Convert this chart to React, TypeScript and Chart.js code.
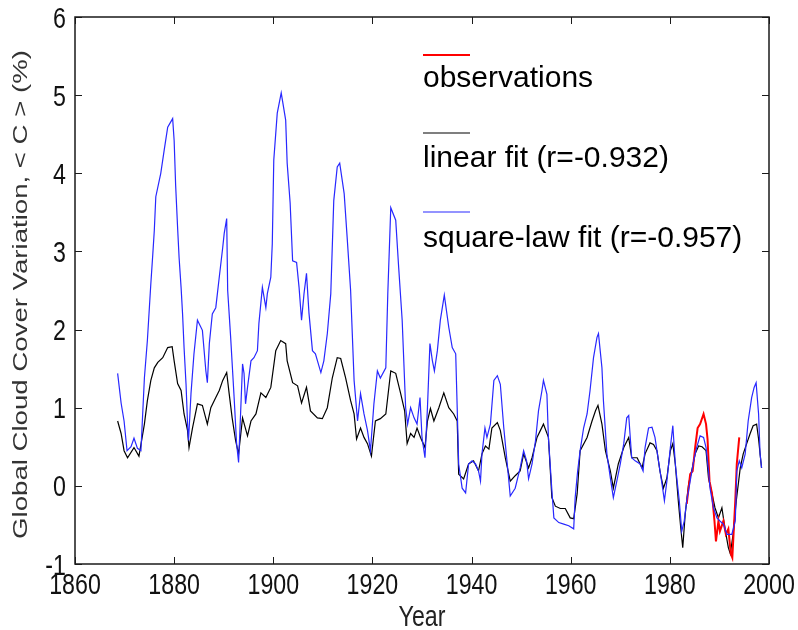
import React, { useEffect, useRef } from "react";
import { Chart, registerables } from "chart.js";

Chart.register(...registerables);

const xTickStep = 20;
const xMin = 1860;
const xMax = 2000;
const yMin = -1;
const yMax = 6;

const seriesLabels = ["observations", "linear fit (r=-0.932)", "square-law fit (r=-0.957)"];

const obsYears = [1983.4, 1984.1, 1984.6, 1985.1, 1985.6, 1986.1, 1986.8, 1987.3, 1987.6, 1988.0, 1988.5, 1989.0, 1989.3, 1989.8, 1990.1, 1990.8, 1991.3, 1991.8, 1992.3, 1992.6, 1993.2, 1993.5, 1994.0];
const obsValues = [-0.23, 0.15, 0.19, 0.49, 0.74, 0.79, 0.92, 0.79, 0.6, 0.06, -0.1, -0.45, -0.71, -0.45, -0.58, -0.45, -0.62, -0.55, -0.87, -0.92, -0.19, 0.28, 0.62];

const linYears = [1868.6, 1869.3, 1869.9, 1870.6, 1871.9, 1872.9, 1874.0, 1874.6, 1875.3, 1876.0, 1876.7, 1877.7, 1878.7, 1879.6, 1880.0, 1880.7, 1881.4, 1882.0, 1882.7, 1883.0, 1883.7, 1884.7, 1885.7, 1886.7, 1887.4, 1888.4, 1889.1, 1889.8, 1890.6, 1891.1, 1891.7, 1892.4, 1893.0, 1893.8, 1894.8, 1895.5, 1896.5, 1897.5, 1898.5, 1899.5, 1900.5, 1901.5, 1902.5, 1902.8, 1903.9, 1904.9, 1905.7, 1906.7, 1907.5, 1908.9, 1909.9, 1910.9, 1911.9, 1912.9, 1913.6, 1914.6, 1915.6, 1916.3, 1916.8, 1917.6, 1918.3, 1919.0, 1919.8, 1920.6, 1921.6, 1922.7, 1923.7, 1924.7, 1925.7, 1926.5, 1927.0, 1927.7, 1928.4, 1929.0, 1929.7, 1930.6, 1931.1, 1931.7, 1932.4, 1933.4, 1934.4, 1935.4, 1936.4, 1937.1, 1937.4, 1938.4, 1939.4, 1940.4, 1941.4, 1942.1, 1942.8, 1943.5, 1944.1, 1945.2, 1945.8, 1946.8, 1947.8, 1948.8, 1949.8, 1950.5, 1951.5, 1952.2, 1953.2, 1954.5, 1955.5, 1956.2, 1956.9, 1957.9, 1958.9, 1959.9, 1960.6, 1961.3, 1961.9, 1963.3, 1964.3, 1965.0, 1965.5, 1966.3, 1967.0, 1968.0, 1968.6, 1969.6, 1970.7, 1971.7, 1972.3, 1973.4, 1974.4, 1975.0, 1976.0, 1976.7, 1977.4, 1978.0, 1978.7, 1979.4, 1980.1, 1980.6, 1981.1, 1981.7, 1982.2, 1982.6, 1983.1, 1983.8, 1984.4, 1985.1, 1985.8, 1986.5, 1987.3, 1987.8, 1988.5, 1989.1, 1989.8, 1990.5, 1991.1, 1991.8, 1992.2, 1992.8, 1993.4, 1994.2, 1994.8, 1995.5, 1996.2, 1996.8, 1997.5, 1997.9, 1998.2, 1998.5];
const linValues = [0.83, 0.67, 0.45, 0.36, 0.49, 0.38, 0.79, 1.09, 1.35, 1.51, 1.58, 1.64, 1.77, 1.78, 1.6, 1.31, 1.22, 0.92, 0.71, 0.49, 0.74, 1.05, 1.03, 0.79, 1.0, 1.13, 1.22, 1.35, 1.45, 1.18, 0.87, 0.58, 0.41, 0.87, 0.64, 0.83, 0.92, 1.19, 1.13, 1.26, 1.73, 1.86, 1.82, 1.6, 1.32, 1.28, 1.06, 1.26, 0.96, 0.87, 0.86, 1.0, 1.38, 1.64, 1.63, 1.38, 1.09, 0.92, 0.6, 0.74, 0.62, 0.54, 0.38, 0.83, 0.86, 0.92, 1.47, 1.44, 1.18, 0.96, 0.54, 0.67, 0.62, 0.74, 0.62, 0.49, 0.83, 0.99, 0.83, 1.0, 1.19, 1.0, 0.92, 0.83, 0.15, 0.09, 0.28, 0.32, 0.19, 0.41, 0.51, 0.47, 0.74, 0.81, 0.71, 0.36, 0.06, 0.13, 0.19, 0.41, 0.23, 0.36, 0.62, 0.79, 0.62, -0.15, -0.26, -0.29, -0.29, -0.41, -0.42, -0.1, 0.45, 0.62, 0.83, 0.96, 1.03, 0.79, 0.45, 0.19, -0.03, 0.28, 0.49, 0.62, 0.36, 0.36, 0.23, 0.41, 0.55, 0.53, 0.45, 0.19, -0.03, 0.1, 0.45, 0.54, 0.28, -0.19, -0.54, -0.79, -0.36, 0.03, 0.19, 0.41, 0.51, 0.5, 0.45, 0.1, -0.1, -0.28, -0.41, -0.28, -0.54, -0.79, -0.87, -0.6, -0.19, 0.23, 0.41, 0.54, 0.67, 0.77, 0.79, 0.6, 0.41, 0.23];

const sqYears = [1868.6, 1869.3, 1869.9, 1870.5, 1871.3, 1871.9, 1872.6, 1873.3, 1874.0, 1874.6, 1875.3, 1875.7, 1876.0, 1876.3, 1877.3, 1878.0, 1878.7, 1879.7, 1880.0, 1880.3, 1880.7, 1881.0, 1881.4, 1881.7, 1882.0, 1882.4, 1882.7, 1882.9, 1883.4, 1884.0, 1884.7, 1885.7, 1886.4, 1886.7, 1887.1, 1887.7, 1888.4, 1889.1, 1889.8, 1890.1, 1890.6, 1890.8, 1891.4, 1892.1, 1892.6, 1893.0, 1893.4, 1893.8, 1894.1, 1894.4, 1894.8, 1895.5, 1896.1, 1896.8, 1897.1, 1897.8, 1898.5, 1898.8, 1899.5, 1899.8, 1900.1, 1900.8, 1901.6, 1902.5, 1902.8, 1903.4, 1903.9, 1904.7, 1905.2, 1905.7, 1906.2, 1906.7, 1907.2, 1907.9, 1908.5, 1909.6, 1910.2, 1910.9, 1911.6, 1912.2, 1912.9, 1913.4, 1914.3, 1914.9, 1915.6, 1916.3, 1917.0, 1917.6, 1918.3, 1919.0, 1919.6, 1920.3, 1921.0, 1921.6, 1922.7, 1923.1, 1923.7, 1924.7, 1925.3, 1926.0, 1926.7, 1927.1, 1927.7, 1928.4, 1929.0, 1929.6, 1930.0, 1930.6, 1931.1, 1931.6, 1932.1, 1932.5, 1933.1, 1933.7, 1934.5, 1935.4, 1936.1, 1936.8, 1937.1, 1937.4, 1938.1, 1938.8, 1939.4, 1940.1, 1940.8, 1941.4, 1941.8, 1942.1, 1942.7, 1943.1, 1943.8, 1944.5, 1945.2, 1945.8, 1946.5, 1947.2, 1947.8, 1948.8, 1949.8, 1950.5, 1951.1, 1951.5, 1952.2, 1952.9, 1953.5, 1954.2, 1954.5, 1955.2, 1955.5, 1956.2, 1956.6, 1957.6, 1958.6, 1959.6, 1960.6, 1960.9, 1961.4, 1961.9, 1962.6, 1963.3, 1963.9, 1964.6, 1965.3, 1965.6, 1966.3, 1966.6, 1967.3, 1968.0, 1968.6, 1969.3, 1970.0, 1970.7, 1971.3, 1971.7, 1972.3, 1973.0, 1974.0, 1974.6, 1975.0, 1975.7, 1976.4, 1977.0, 1977.7, 1978.4, 1978.9, 1979.4, 1980.1, 1980.6, 1981.1, 1981.4, 1981.9, 1982.4, 1982.9, 1983.4, 1984.1, 1984.8, 1985.4, 1986.1, 1986.8, 1987.3, 1987.8, 1988.1, 1988.8, 1989.5, 1990.1, 1990.8, 1991.5, 1992.5, 1993.2, 1993.5, 1994.0, 1994.5, 1995.2, 1995.8, 1996.5, 1997.0, 1997.4, 1997.9, 1998.2, 1998.5];
const sqValues = [1.44, 1.06, 0.83, 0.45, 0.5, 0.61, 0.48, 0.45, 1.38, 1.86, 2.59, 2.97, 3.27, 3.7, 4.0, 4.3, 4.59, 4.7, 4.42, 3.85, 3.3, 2.92, 2.54, 2.2, 1.77, 1.3, 0.8, 0.58, 1.18, 1.69, 2.12, 1.99, 1.47, 1.32, 1.82, 2.2, 2.28, 2.67, 3.05, 3.23, 3.42, 2.5, 1.9, 1.13, 0.54, 0.3, 0.92, 1.56, 1.44, 1.05, 1.26, 1.6, 1.64, 1.73, 2.08, 2.54, 2.28, 2.46, 2.67, 3.1, 4.17, 4.77, 5.03, 4.68, 4.13, 3.62, 2.88, 2.86, 2.54, 2.12, 2.46, 2.72, 2.21, 1.73, 1.69, 1.45, 1.6, 1.95, 2.46, 3.65, 4.08, 4.13, 3.74, 3.18, 2.5, 1.35, 0.83, 1.18, 0.92, 0.71, 0.45, 1.05, 1.47, 1.38, 1.51, 2.46, 3.56, 3.4, 2.79, 2.12, 1.0, 0.79, 1.0, 0.87, 0.79, 1.13, 0.62, 0.36, 1.0, 1.82, 1.6, 1.47, 1.73, 2.12, 2.44, 2.03, 1.77, 1.69, 1.0, 0.28, -0.03, -0.09, 0.28, 0.32, 0.28, 0.19, 0.06, 0.41, 0.74, 0.62, 0.79, 1.35, 1.41, 1.3, 0.74, 0.28, -0.13, -0.03, 0.23, 0.45, 0.32, 0.09, 0.28, 0.58, 0.96, 1.22, 1.35, 1.17, 0.62, -0.06, -0.41, -0.47, -0.49, -0.51, -0.55, -0.15, 0.19, 0.45, 0.74, 0.92, 1.22, 1.64, 1.9, 1.95, 1.51, 1.09, 0.41, 0.1, -0.15, 0.06, 0.28, 0.54, 0.87, 0.9, 0.36, 0.32, 0.28, 0.19, 0.49, 0.74, 0.75, 0.62, 0.32, 0.03, -0.19, 0.06, 0.49, 0.77, 0.28, 0.1, -0.19, -0.58, -0.45, -0.19, 0.06, 0.32, 0.49, 0.64, 0.62, 0.49, 0.19, -0.03, -0.28, -0.41, -0.45, -0.49, -0.62, -0.62, -0.45, 0.19, 0.32, 0.23, 0.41, 0.83, 1.13, 1.26, 1.32, 0.92, 0.41, 0.23];

const xTitle = "Year";
const yTitle = "Global Cloud Cover Variation, < C > (%)";

const zip = (xs: number[], ys: number[]) => xs.map((x, i) => ({ x, y: ys[i] }));

const SANS = "'Liberation Sans', Arial, sans-serif";
const NARROW = 0.8;

function squeezedText(ctx: any, text: string, x: number, y: number, align: string, sx: number) {
  ctx.save();
  ctx.translate(x, y);
  ctx.scale(sx, 1);
  ctx.textAlign = align;
  ctx.fillText(text, 0, 0);
  ctx.restore();
}

const decorPlugin = {
  id: "decor",
  afterDraw(chart: any) {
    const { ctx, chartArea: a, scales } = chart;
    const xs = scales.x;
    const ys = scales.y;
    ctx.save();
    // frame
    ctx.strokeStyle = "#1a1a1a";
    ctx.lineWidth = 1.5;
    ctx.strokeRect(a.left, a.top, a.right - a.left, a.bottom - a.top);
    // inward ticks
    const tl = 7;
    ctx.lineWidth = 1;
    ctx.beginPath();
    xs.ticks.forEach((t: any) => {
      const p = Math.round(xs.getPixelForValue(t.value)) + 0.5;
      ctx.moveTo(p, a.bottom);
      ctx.lineTo(p, a.bottom - tl);
      ctx.moveTo(p, a.top);
      ctx.lineTo(p, a.top + tl);
    });
    ys.ticks.forEach((t: any) => {
      const p = Math.round(ys.getPixelForValue(t.value)) + 0.5;
      ctx.moveTo(a.left, p);
      ctx.lineTo(a.left + tl, p);
      ctx.moveTo(a.right, p);
      ctx.lineTo(a.right - tl, p);
    });
    ctx.stroke();

    // tick labels (condensed, as in the reference)
    ctx.fillStyle = "#111";
    ctx.font = "29px " + SANS;
    ctx.textBaseline = "alphabetic";
    xs.ticks.forEach((t: any) => {
      const p = xs.getPixelForValue(t.value);
      squeezedText(ctx, String(t.value), p, a.bottom + 30, "center", NARROW);
    });
    ys.ticks.forEach((t: any) => {
      const p = ys.getPixelForValue(t.value);
      squeezedText(ctx, String(t.value), a.left - 9, p + 10.5, "right", NARROW);
    });

    // legend: line above each label
    const ds = chart.data.datasets;
    const lx = 423;
    const lineYs = [55, 133, 212];
    const textYs = [87, 167, 247];
    ctx.font = "30px " + SANS;
    ctx.textAlign = "left";
    ctx.textBaseline = "alphabetic";
    ds.forEach((d: any, i: number) => {
      ctx.strokeStyle = d.borderColor;
      ctx.lineWidth = d.borderWidth;
      ctx.beginPath();
      ctx.moveTo(lx, lineYs[i]);
      ctx.lineTo(lx + 47, lineYs[i]);
      ctx.stroke();
      ctx.fillStyle = "#000";
      ctx.fillText(d.label, lx, textYs[i]);
    });

    // axis titles
    ctx.fillStyle = "#222";
    ctx.font = "29px " + SANS;
    ctx.textBaseline = "alphabetic";
    squeezedText(ctx, xTitle, (a.left + a.right) / 2, 626, "center", NARROW);

    ctx.save();
    ctx.translate(27, (a.top + a.bottom) / 2 + 4);
    ctx.rotate(-Math.PI / 2);
    ctx.scale(1.38, 1);
    ctx.font = "20px " + SANS;
    ctx.textAlign = "center";
    ctx.fillStyle = "#333";
    ctx.fillText(yTitle, 0, 0);
    ctx.restore();

    ctx.restore();
  },
};

export default function App() {
  const ref = useRef<HTMLCanvasElement | null>(null);
  useEffect(() => {
    if (!ref.current) return;
    const chart = new Chart(ref.current, {
      type: "line",
      data: {
        datasets: [
          {
            label: seriesLabels[0],
            data: zip(obsYears, obsValues),
            borderColor: "rgb(255,0,0)",
            borderWidth: 2,
            pointRadius: 0,
            tension: 0,
            order: 1,
          },
          {
            label: seriesLabels[1],
            data: zip(linYears, linValues),
            borderColor: "rgb(0,0,0)",
            borderWidth: 1.2,
            pointRadius: 0,
            tension: 0,
            order: 2,
          },
          {
            label: seriesLabels[2],
            data: zip(sqYears, sqValues),
            borderColor: "rgb(40,40,255)",
            borderWidth: 1.2,
            pointRadius: 0,
            tension: 0,
            order: 0,
          },
        ],
      },
      options: {
        responsive: false,
        animation: false,
        devicePixelRatio: 1,
        layout: { padding: { top: 17, right: 29, left: 0, bottom: 0 } },
        plugins: { legend: { display: false }, tooltip: { enabled: false } },
        scales: {
          x: {
            type: "linear",
            min: xMin,
            max: xMax,
            grid: { display: false, drawTicks: false },
            border: { display: false },
            ticks: { stepSize: xTickStep, autoSkip: false, display: false },
            afterFit: (s: any) => {
              s.height = 66;
            },
          },
          y: {
            type: "linear",
            min: yMin,
            max: yMax,
            grid: { display: false, drawTicks: false },
            border: { display: false },
            ticks: { stepSize: 1, display: false },
            afterFit: (s: any) => {
              s.width = 75;
            },
          },
        },
      },
      plugins: [decorPlugin],
    });
    return () => chart.destroy();
  }, []);
  return (
    <div style={{ position: "absolute", left: 0, top: 0, width: 798, height: 630, background: "#fff" }}>
      <canvas ref={ref} width={798} height={630} style={{ display: "block" }} />
    </div>
  );
}
